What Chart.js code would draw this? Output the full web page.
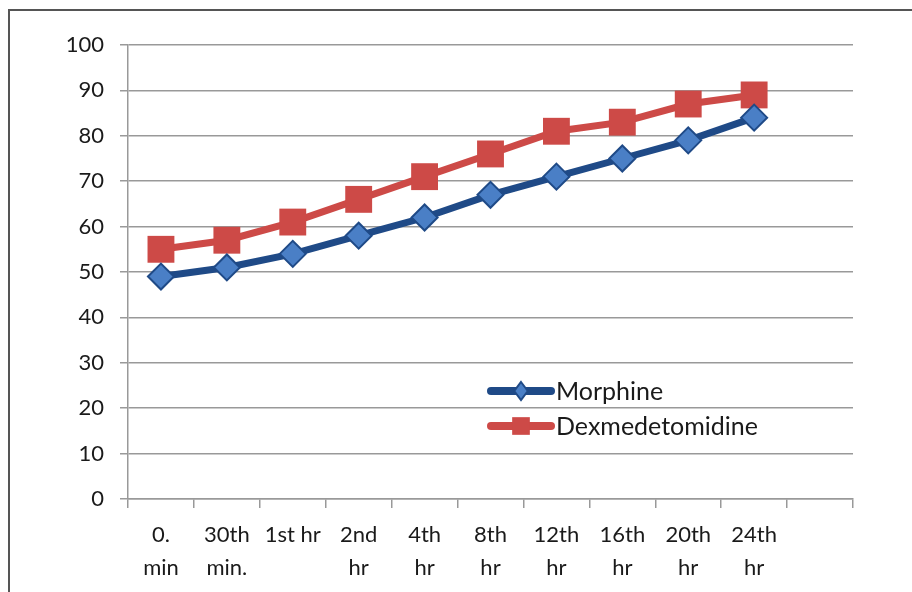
<!DOCTYPE html>
<html>
<head>
<meta charset="utf-8">
<script src="https://cdn.jsdelivr.net/npm/chart.js@4/dist/chart.umd.min.js"></script>
<style>
  html, body { margin: 0; padding: 0; background: #fff; }
  #wrap { position: relative; width: 912px; height: 592px; }
</style>
</head>
<body>
<div id="wrap"><canvas id="c" width="912" height="592"></canvas></div>
<script>
const categories = [["0.", "min"], ["30th", "min."], "1st hr", ["2nd", "hr"], ["4th", "hr"], ["8th", "hr"], ["12th", "hr"], ["16th", "hr"], ["20th", "hr"], ["24th", "hr"], ""];
const morphine = [49, 51, 54, 58, 62, 67, 71, 75, 79, 84, null];
const dexmedetomidine = [55, 57, 61, 66, 71, 76, 81, 83, 87, 89, null];
const yTicks = [0, 10, 20, 30, 40, 50, 60, 70, 80, 90, 100];

const FONT = "Lato, 'Open Sans', sans-serif";
const BLUE_LINE = '#1f4a87';
const BLUE_FILL = '#4a7fc6';
const RED = '#cd4a47';

const framePlugin = {
  id: 'frame',
  beforeDraw(chart) {
    const ctx = chart.ctx;
    ctx.save();
    ctx.fillStyle = '#fff';
    ctx.fillRect(0, 0, chart.width, chart.height);
    ctx.strokeStyle = '#555';
    ctx.lineWidth = 2;
    ctx.beginPath();
    ctx.moveTo(9, 592);
    ctx.lineTo(9, 10);
    ctx.lineTo(912, 10);
    ctx.stroke();
    ctx.restore();
  }
};

const legendPlugin = {
  id: 'innerLegend',
  afterDraw(chart) {
    const ctx = chart.ctx;
    const items = chart.data.datasets;
    const x0 = 491, x1 = 551;
    const ys = [391, 426];
    ctx.save();
    items.forEach((ds, i) => {
      const y = ys[i];
      const cx = (x0 + x1) / 2;
      ctx.strokeStyle = ds.borderColor;
      ctx.lineWidth = 8;
      ctx.lineCap = 'round';
      ctx.beginPath();
      ctx.moveTo(x0, y);
      ctx.lineTo(x1, y);
      ctx.stroke();
      ctx.fillStyle = ds.pointBackgroundColor;
      ctx.strokeStyle = ds.pointBorderColor;
      ctx.lineWidth = ds.pointBorderWidth;
      ctx.beginPath();
      if (ds.pointStyle === 'rectRot') {
        const rx = ds.legendRadius * 0.75, ry = ds.legendRadius;
        ctx.moveTo(cx, y - ry); ctx.lineTo(cx + rx, y); ctx.lineTo(cx, y + ry); ctx.lineTo(cx - rx, y); ctx.closePath();
      } else {
        const h = ds.legendRadius * Math.SQRT1_2;
        ctx.rect(cx - h, y - h, 2 * h, 2 * h);
      }
      ctx.fill();
      if (ds.pointBorderWidth) ctx.stroke();
      ctx.fillStyle = '#1a1a1a';
      ctx.font = '25px ' + FONT;
      ctx.textAlign = 'left';
      ctx.textBaseline = 'middle';
      ctx.fillText(ds.label, x1 + 5, y + 1);
    });
    ctx.restore();
  }
};

new Chart(document.getElementById('c'), {
  type: 'line',
  data: {
    labels: categories,
    datasets: [
      {
        label: 'Morphine',
        data: morphine,
        borderColor: BLUE_LINE,
        borderWidth: 7,
        pointStyle: 'rectRot',
        pointRadius: 13,
        legendRadius: 9,
        pointBackgroundColor: BLUE_FILL,
        pointBorderColor: BLUE_LINE,
        pointBorderWidth: 2,
        pointHoverRadius: 13,
        tension: 0
      },
      {
        label: 'Dexmedetomidine',
        data: dexmedetomidine,
        borderColor: RED,
        borderWidth: 7,
        pointStyle: 'rect',
        pointRadius: 19,
        legendRadius: 12.5,
        pointBackgroundColor: RED,
        pointBorderColor: RED,
        pointBorderWidth: 0,
        pointHoverRadius: 19,
        tension: 0
      }
    ]
  },
  options: {
    responsive: false,
    animation: false,
    events: [],
    layout: { padding: { top: 45, right: 59, bottom: 0, left: 0 } },
    plugins: { legend: { display: false }, tooltip: { enabled: false } },
    scales: {
      x: {
        offset: true,
        grid: { offset: true, drawOnChartArea: false, drawTicks: true, tickLength: 9, color: '#999', lineWidth: 1.5 },
        border: { color: '#999', width: 1.5 },
        ticks: { color: '#1a1a1a', font: { family: FONT, size: 22, lineHeight: 1.5 }, padding: 10, maxRotation: 0, autoSkip: false },
        afterFit(s) { s.height = 93; }
      },
      y: {
        min: 0, max: 100,
        afterBuildTicks(s) { s.ticks = yTicks.map(v => ({ value: v })); },
        grid: { color: '#999', lineWidth: 1.5, tickLength: 8 },
        border: { color: '#999', width: 1.5 },
        ticks: { color: '#1a1a1a', font: { family: FONT, size: 22 }, padding: 16 },
        afterFit(s) { s.width = 128; }
      }
    }
  },
  plugins: [framePlugin, legendPlugin]
});
</script>
</body>
</html>
